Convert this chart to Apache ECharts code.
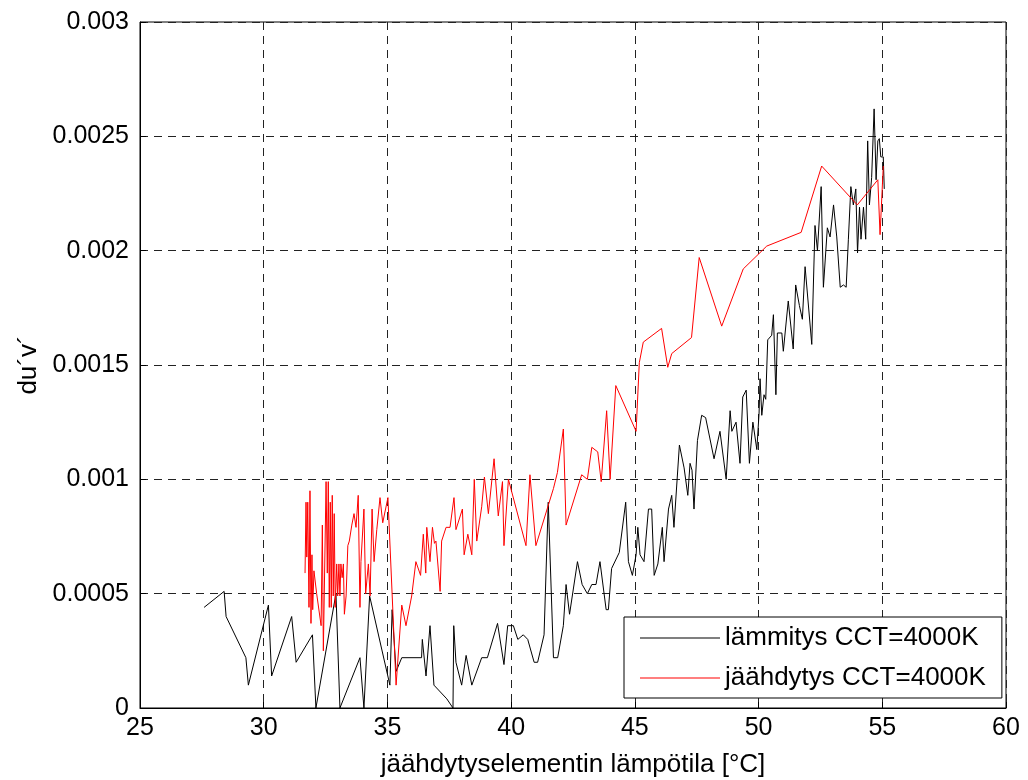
<!DOCTYPE html>
<html>
<head>
<meta charset="utf-8">
<script src="https://cdn.jsdelivr.net/npm/echarts@6/dist/echarts.min.js"></script>
<style>
html,body{margin:0;padding:0;background:#fff;}
#chart{width:1028px;height:780px;}
</style>
</head>
<body>
<div id="chart"></div>
<script>
// lämmitys (heating), temperature °C
const heatT = [27.59,28.40,28.48,29.28,29.38,30.19,30.32,31.13,31.31,31.97,32.11,32.92,33.08,33.89,34.05,34.28,35.10,35.19,35.35,35.58,36.38,36.41,36.56,36.72,36.88,37.40,37.65,37.68,37.77,38.00,38.18,38.41,38.81,39.04,39.45,39.71,39.86,40.09,40.27,40.49,40.67,40.93,41.07,41.33,41.50,41.71,41.88,42.11,42.22,42.36,42.68,42.87,43.08,43.26,43.43,43.59,43.84,43.93,44.06,44.37,44.63,44.74,44.90,45.05,45.12,45.21,45.37,45.55,45.68,45.78,45.93,46.11,46.18,46.36,46.49,46.58,46.80,46.99,47.14,47.23,47.31,47.39,47.53,47.70,47.86,48.20,48.44,48.69,48.85,48.92,49.09,49.25,49.36,49.50,49.63,49.77,49.93,50.02,50.06,50.13,50.22,50.29,50.37,50.53,50.60,50.70,50.76,50.94,51.00,51.20,51.40,51.50,51.65,51.77,51.88,52.15,52.28,52.38,52.53,52.62,52.78,52.89,53.03,53.16,53.30,53.43,53.54,53.63,53.73,53.83,53.93,54.00,54.08,54.14,54.24,54.33,54.41,54.48,54.57,54.67,54.75,54.82,54.88,54.94,55.04,55.08];
const heatV = [0.00044,0.00051,0.00040,0.00022,0.00010,0.00045,0.00014,0.00040,0.00020,0.00032,0.00000,0.00050,0.00000,0.00022,0.00000,0.00049,0.00010,0.00043,0.00016,0.00022,0.00022,0.00030,0.00014,0.00036,0.00010,0.00004,0.00000,0.00036,0.00020,0.00010,0.00023,0.00010,0.00022,0.00022,0.00037,0.00019,0.00036,0.00036,0.00030,0.00032,0.00030,0.00020,0.00020,0.00032,0.00090,0.00022,0.00022,0.00036,0.00054,0.00041,0.00064,0.00054,0.00050,0.00054,0.00054,0.00064,0.00043,0.00043,0.00061,0.00068,0.00090,0.00064,0.00058,0.00067,0.00079,0.00067,0.00064,0.00087,0.00087,0.00058,0.00063,0.00079,0.00064,0.00087,0.00093,0.00079,0.00115,0.00105,0.00093,0.00107,0.00104,0.00087,0.00117,0.00128,0.00127,0.00109,0.00121,0.00100,0.00130,0.00121,0.00125,0.00107,0.00136,0.00139,0.00107,0.00125,0.00113,0.00129,0.00144,0.00128,0.00137,0.00135,0.00161,0.00163,0.00172,0.00137,0.00164,0.00164,0.00156,0.00178,0.00157,0.00185,0.00176,0.00170,0.00193,0.00159,0.00211,0.00200,0.00228,0.00184,0.00210,0.00206,0.00220,0.00206,0.00184,0.00185,0.00184,0.00205,0.00228,0.00220,0.00227,0.00199,0.00219,0.00205,0.00219,0.00205,0.00248,0.00220,0.00232,0.00262,0.00231,0.00248,0.00249,0.00241,0.00241,0.00227];

// jäähdytys (cooling)
const coolT = [31.67,31.71,31.74,31.78,31.83,31.87,31.91,31.95,31.98,32.03,32.14,32.32,32.37,32.41,32.52,32.57,32.61,32.65,32.69,32.73,32.77,32.81,32.85,32.89,32.95,32.99,33.04,33.08,33.12,33.17,33.22,33.26,33.33,33.40,33.46,33.56,33.65,33.73,33.82,33.89,33.93,33.99,34.05,34.12,34.23,34.30,34.38,34.46,34.57,34.70,34.81,35.02,35.35,35.58,35.75,35.98,36.15,36.34,36.45,36.55,36.59,36.72,36.82,36.90,36.96,37.13,37.19,37.37,37.53,37.69,37.77,38.03,38.10,38.25,38.41,38.51,38.61,38.81,38.92,39.08,39.31,39.48,39.65,39.71,39.89,40.60,40.76,41.00,41.71,41.87,42.11,42.22,42.85,43.08,43.26,43.50,43.64,43.86,44.00,44.23,44.29,45.05,45.18,45.34,46.08,46.33,46.49,47.29,47.60,48.51,49.38,50.33,51.72,52.55,53.99,54.82,54.91,55.04];
const coolV = [0.00059,0.00090,0.00066,0.00090,0.00044,0.00095,0.00037,0.00067,0.00043,0.00060,0.00050,0.00036,0.00080,0.00025,0.00099,0.00059,0.00099,0.00044,0.00090,0.00044,0.00093,0.00049,0.00085,0.00044,0.00063,0.00049,0.00063,0.00049,0.00063,0.00057,0.00063,0.00041,0.00049,0.00071,0.00073,0.00080,0.00085,0.00079,0.00093,0.00044,0.00064,0.00064,0.00087,0.00050,0.00063,0.00049,0.00087,0.00064,0.00078,0.00092,0.00081,0.00092,0.00010,0.00045,0.00036,0.00049,0.00064,0.00058,0.00076,0.00059,0.00079,0.00064,0.00079,0.00072,0.00073,0.00051,0.00073,0.00079,0.00079,0.00092,0.00078,0.00087,0.00067,0.00076,0.00067,0.00100,0.00073,0.00088,0.00101,0.00085,0.00109,0.00084,0.00099,0.00071,0.00100,0.00071,0.00102,0.00071,0.00096,0.00103,0.00122,0.00080,0.00102,0.00100,0.00114,0.00112,0.00099,0.00130,0.00100,0.00141,0.00141,0.00121,0.00151,0.00160,0.00166,0.00149,0.00155,0.00162,0.00197,0.00167,0.00192,0.00202,0.00208,0.00237,0.00220,0.00231,0.00207,0.00237];

const seriesNames = ['lämmitys CCT=4000K', 'jäähdytys CCT=4000K'];
const xTitle = 'jäähdytyselementin lämpötila [°C]';
const yTitle = 'du´v´';

const FONT = "'Liberation Sans', Arial, sans-serif";
const zip = (a, b) => a.map((t, i) => [t, b[i]]);

const chart = echarts.init(document.getElementById('chart'), null, {renderer: 'canvas'});
chart.setOption({
  animation: false,
  backgroundColor: '#fff',
  textStyle: {fontFamily: FONT, color: '#000'},
  grid: {left: 140, right: 22, top: 22, bottom: 72, containLabel: false, outerBoundsMode: 'none',
    show: true, borderColor: '#000', borderWidth: 1, backgroundColor: 'transparent'},
  legend: {
    orient: 'vertical', left: 624, top: 617,
    backgroundColor: '#fff', borderColor: '#000', borderWidth: 1, borderRadius: 0,
    padding: [8, 16, 7, 16], itemGap: 14, itemWidth: 80, itemHeight: 1,
    icon: 'rect',
    textStyle: {fontFamily: FONT, fontSize: 26, color: '#000'},
    data: seriesNames
  },
  xAxis: {
    type: 'value', min: 25, max: 60, interval: 5,
    name: xTitle, nameLocation: 'middle', nameGap: 44,
    nameTextStyle: {fontFamily: FONT, fontSize: 26, color: '#000'},
    axisLine: {show: true, lineStyle: {color: '#000', width: 1}},
    axisTick: {show: true, inside: true, length: 6, lineStyle: {color: '#000'}},
    axisLabel: {fontFamily: FONT, fontSize: 25, color: '#000', margin: 8},
    splitLine: {show: true, lineStyle: {color: '#222', type: [8, 6], width: 1}}
  },
  yAxis: {
    type: 'value', min: 0, max: 0.003, interval: 0.0005,
    name: yTitle, nameLocation: 'middle', nameGap: 90, nameRotate: 90,
    nameTextStyle: {fontFamily: FONT, fontSize: 26, color: '#000'},
    axisLine: {show: true, lineStyle: {color: '#000', width: 1}},
    axisTick: {show: true, inside: true, length: 6, lineStyle: {color: '#000'}},
    axisLabel: {fontFamily: FONT, fontSize: 25, color: '#000', margin: 11,
      formatter: v => String(+v.toFixed(4))},
    splitLine: {show: true, lineStyle: {color: '#222', type: [8, 6], width: 1}}
  },
  series: [
    {name: seriesNames[0], type: 'line', symbol: 'none', data: zip(heatT, heatV),
     lineStyle: {color: '#000', width: 1}, itemStyle: {color: '#000'}},
    {name: seriesNames[1], type: 'line', symbol: 'none', data: zip(coolT, coolV),
     lineStyle: {color: '#ff0000', width: 1}, itemStyle: {color: '#ff0000'}}
  ]
});
</script>
</body>
</html>
